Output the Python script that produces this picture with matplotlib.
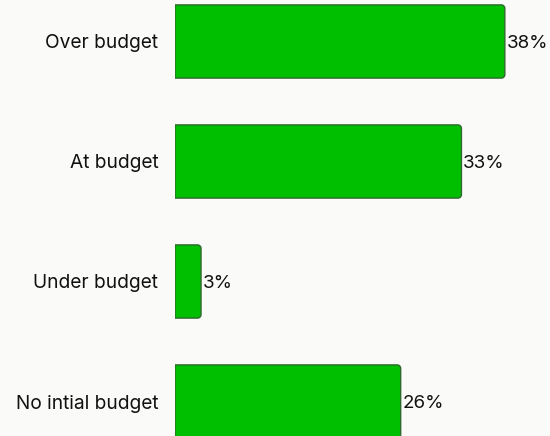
import matplotlib
matplotlib.use("Agg")
import matplotlib.pyplot as plt
from matplotlib.path import Path
from matplotlib.patches import PathPatch

categories = ["Over budget", "At budget", "Under budget", "No intial budget"]
shares = [38, 33, 3, 26]
value_labels = ["38%", "33%", "3%", "26%"]

BG = "#fafaf8"
FILL = "#00bf00"
EDGE = "#2f6a2f"

plt.rcParams["font.family"] = ["Inter", "DejaVu Sans"]

fig = plt.figure(figsize=(5.5, 4.36), dpi=100, facecolor=BG)
ax = fig.add_axes([175 / 550, 0, 375 / 550, 1])
ax.set_facecolor(BG)

ypos = list(range(len(categories)))
bars = ax.barh(ypos, shares, height=0.61, color="none", edgecolor="none")

ax.set_xlim(0, 375 / 8.68)
ax.set_ylim(3 + 34.5 / 120, -41.5 / 120)

# rounded right-hand corners, radius given in pixels
fig.canvas.draw()
px_x = (ax.get_xlim()[1] - ax.get_xlim()[0]) / 375.0
px_y = abs(ax.get_ylim()[0] - ax.get_ylim()[1]) / 436.0
r = 3.5
rx, ry = r * px_x, r * px_y
k = 0.5523
for b in bars:
    x0, y0 = b.get_x(), b.get_y()
    w, h = b.get_width(), b.get_height()
    x1, y1 = x0 + w, y0 + h
    verts = [
        (x0, y0), (x1 - rx, y0),
        (x1 - rx + k * rx, y0), (x1, y0 + ry - k * ry), (x1, y0 + ry),
        (x1, y1 - ry),
        (x1, y1 - ry + k * ry), (x1 - rx + k * rx, y1), (x1 - rx, y1),
        (x0, y1), (x0, y0),
    ]
    codes = [Path.MOVETO, Path.LINETO,
             Path.CURVE4, Path.CURVE4, Path.CURVE4,
             Path.LINETO,
             Path.CURVE4, Path.CURVE4, Path.CURVE4,
             Path.LINETO, Path.CLOSEPOLY]
    ax.add_patch(PathPatch(Path(verts, codes), facecolor=FILL,
                           edgecolor=EDGE, linewidth=1.0))

for yi, v, lab in zip(ypos, shares, value_labels):
    ax.annotate(lab, (v, yi), xytext=(1.2, -1.5), textcoords="offset points",
                ha="left", va="center", fontsize=13.5, color="#111111")

ax.set_yticks(ypos)
ax.set_yticklabels(categories, fontsize=13.8, color="#111111")
ax.tick_params(axis="y", length=0, pad=12)
ax.set_xticks([])
for s in ax.spines.values():
    s.set_visible(False)

fig.savefig("out.png", dpi=100, facecolor=BG)
